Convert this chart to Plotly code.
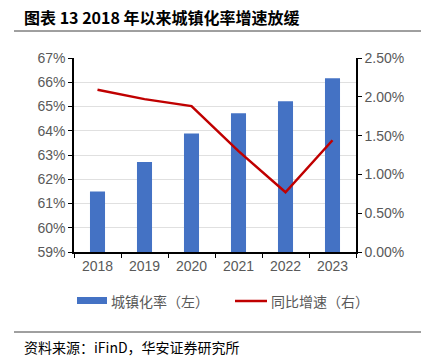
import plotly.graph_objects as go

years = ["2018", "2019", "2020", "2021", "2022", "2023"]
urban_rate = [0.6150, 0.6271, 0.6389, 0.6472, 0.6522, 0.6616]
yoy_growth = [0.0209, 0.0197, 0.0188, 0.0130, 0.0077, 0.0144]
left_ticks = [0.59, 0.60, 0.61, 0.62, 0.63, 0.64, 0.65, 0.66, 0.67]
right_ticks = [0.0, 0.005, 0.010, 0.015, 0.020, 0.025]

BAR = "#4472C4"
LINE = "#C00000"
TICKC = "#595959"
FONT = "Liberation Sans, Noto Sans CJK SC, sans-serif"
CJK = "Noto Sans CJK SC, sans-serif"

W, H = 421, 357
pl, pr, pt, pb = 74, 65, 58, 105
pw, ph = W - pl - pr, H - pt - pb


def px(x):
    return (x - pl) / pw


def py(y):
    return (H - pb - y) / ph


fig = go.Figure()
fig.add_trace(go.Bar(x=years, y=urban_rate, name="城镇化率（左）",
                     marker=dict(color=BAR, line=dict(width=0)), yaxis="y"))
fig.add_trace(go.Scatter(x=years, y=yoy_growth, name="同比增速（右）", mode="lines",
                         line=dict(color=LINE, width=2.5), yaxis="y2"))

fig.update_layout(
    width=W, height=H,
    margin=dict(l=pl, r=pr, t=pt, b=pb, autoexpand=False),
    paper_bgcolor="white", plot_bgcolor="white",
    bargap=0.68,
    showlegend=False,
    font=dict(family=FONT, size=14, color=TICKC),
    xaxis=dict(type="category", showline=True, linecolor="black", linewidth=1.5,
               ticks="outside", tickson="boundaries", ticklen=4, tickcolor="black",
               tickfont=dict(size=14, color=TICKC), showgrid=False),
    yaxis=dict(range=[0.59, 0.67], tickvals=left_ticks, tickformat=".0%",
               showline=True, linecolor="black", linewidth=1.5,
               ticks="outside", ticklen=4, tickcolor="black",
               showgrid=True, gridcolor="#E0E0E0", gridwidth=1,
               tickfont=dict(size=14, color=TICKC), zeroline=False),
    yaxis2=dict(range=[0, 0.025], tickvals=right_ticks, tickformat=".2%",
                overlaying="y", side="right",
                showline=True, linecolor="black", linewidth=1.5,
                ticks="outside", ticklen=4, tickcolor="black",
                showgrid=False, zeroline=False,
                tickfont=dict(size=14, color=TICKC)),
)

# Title, source and frame lines
fig.add_annotation(x=px(22), y=py(17), xref="paper", yref="paper",
                   text="<b>图表 13 2018 年以来城镇化率增速放缓</b>",
                   showarrow=False, xanchor="left", yanchor="middle",
                   font=dict(family=CJK, size=16, color="black"))
fig.add_annotation(x=px(22), y=py(347), xref="paper", yref="paper",
                   text="资料来源：iFinD，华安证券研究所",
                   showarrow=False, xanchor="left", yanchor="middle",
                   font=dict(family=CJK, size=14, color="black"))

fig.add_shape(type="line", xref="paper", yref="paper", x0=px(14), x1=px(421), y0=py(31), y1=py(31),
              line=dict(color="#404040", width=1))
fig.add_shape(type="line", xref="paper", yref="paper", x0=px(14), x1=px(421), y0=py(332), y1=py(332),
              line=dict(color="#404040", width=1))

# Legend (manual)
fig.add_shape(type="rect", xref="paper", yref="paper", x0=px(77), x1=px(107), y0=py(297), y1=py(304),
              fillcolor=BAR, line=dict(width=0))
fig.add_annotation(x=px(109), y=py(301), xref="paper", yref="paper", text="城镇化率（左）",
                   showarrow=False, xanchor="left", yanchor="middle",
                   font=dict(family=CJK, size=14, color=TICKC))
fig.add_shape(type="line", xref="paper", yref="paper", x0=px(235), x1=px(267), y0=py(301), y1=py(301),
              line=dict(color=LINE, width=2.5))
fig.add_annotation(x=px(269), y=py(301), xref="paper", yref="paper", text="同比增速（右）",
                   showarrow=False, xanchor="left", yanchor="middle",
                   font=dict(family=CJK, size=14, color=TICKC))

fig.write_html("out.html", config={"displayModeBar": False},
               post_script="document.body.style.margin='0';document.body.style.padding='0';")
